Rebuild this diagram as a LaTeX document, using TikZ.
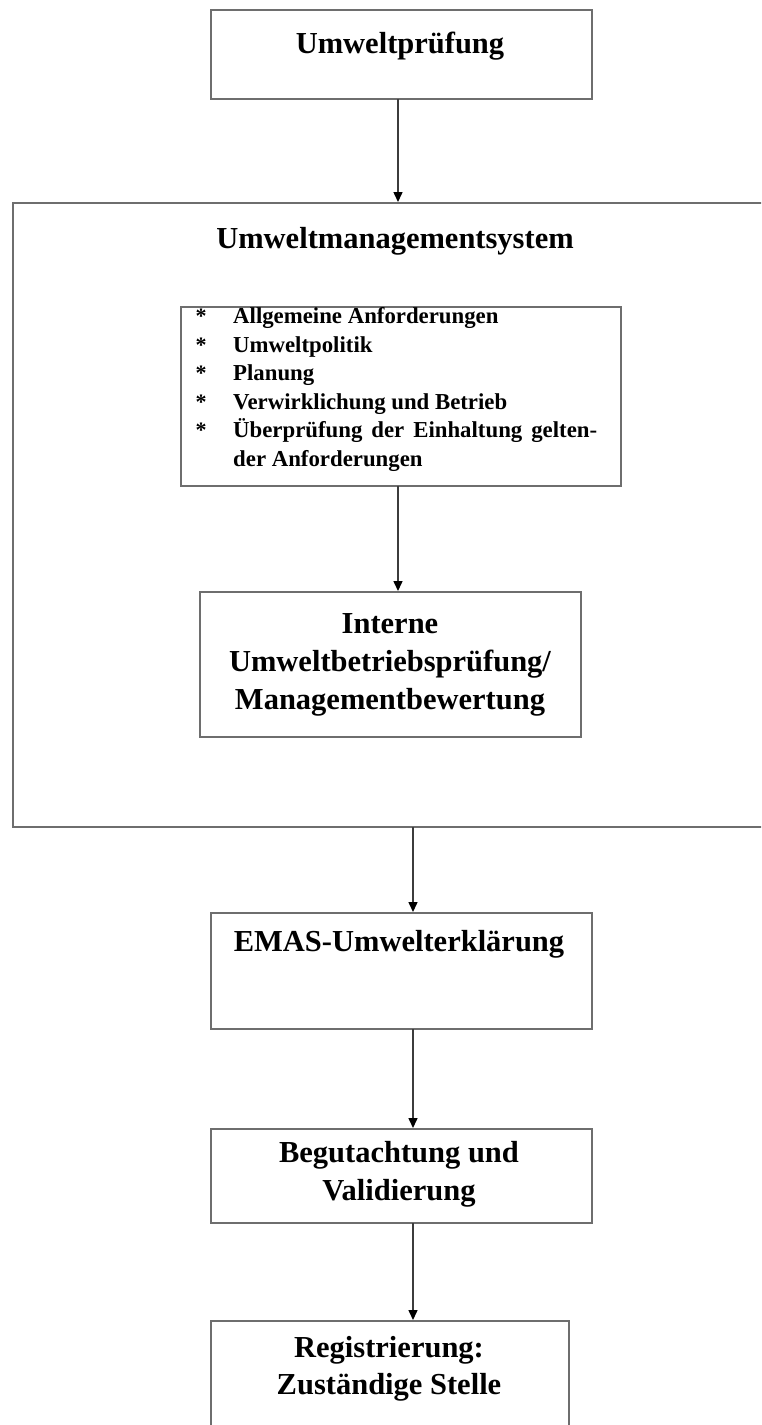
\documentclass[tikz,border=0pt]{standalone}
\usepackage{fontspec}
\setmainfont{Liberation Serif}
\usetikzlibrary{arrows.meta}
\definecolor{boxgray}{HTML}{6E6E6E}
\definecolor{linegray}{HTML}{3C3C3C}
\begin{document}
\begin{tikzpicture}[x=1pt,y=-1pt,
  box/.style={draw=boxgray,line width=2pt,inner sep=0pt,outer sep=0pt,fill=none},
  big/.style={font=\fontsize{30.5}{37}\selectfont\bfseries,inner sep=0pt,anchor=base},
  item/.style={font=\fontsize{22.8}{28.6}\selectfont\bfseries,inner sep=0pt,anchor=base west},
  star/.style={font=\fontsize{22}{28.6}\selectfont\bfseries,inner sep=0pt,anchor=base},
  conn/.style={draw=linegray,line width=1.5pt,-{Triangle[length=10pt,width=9pt,color=black]},shorten >=1pt}]
\useasboundingbox (0,0) rectangle (761,1425);
\clip (0,0) rectangle (761,1425);
% boxes
\node[box,minimum width=381pt,minimum height=89pt] (pruef) at (401.5,54.5) {};
\node[box,minimum width=762pt,minimum height=624pt] (ums) at (394,515) {};
\node[box,minimum width=440pt,minimum height=179pt] (list) at (401,396.5) {};
\node[box,minimum width=381pt,minimum height=145pt] (interne) at (390.5,664.5) {};
\node[box,minimum width=381pt,minimum height=116pt] (emas) at (401.5,971) {};
\node[box,minimum width=381pt,minimum height=94pt] (begut) at (401.5,1176) {};
\node[box,minimum width=358pt,minimum height=124pt] (reg) at (390,1383) {};
% texts
\node[big] (t1) at (400,53) {Umweltprüfung};
\node[big] (t2) at (395,248) {Umweltmanagementsystem};
\node[star] (s1) at (201,323) {*};
\node[star] (s2) at (201,352) {*};
\node[star] (s3) at (201,380) {*};
\node[star] (s4) at (201,409) {*};
\node[star] (s5) at (201,437) {*};
\node[item] (l1) at (233,323) {Allgemeine Anforderungen};
\node[item] (l2) at (233,352) {Umweltpolitik};
\node[item] (l3) at (233,380) {Planung};
\node[item] (l4) at (233,409) {Verwirklichung und Betrieb};
\node[item] (l5) at (233,437) {\makebox[364pt][s]{Überprüfung der Einhaltung gelten-}};
\node[item] (l6) at (233,466) {der Anforderungen};
\node[big] (i1) at (390,633) {Interne};
\node[big] (i2) at (390,671) {Umweltbetriebsprüfung/};
\node[big] (i3) at (390,709) {Managementbewertung};
\node[big] (e1) at (399,951) {EMAS-Umwelterklärung};
\node[big] (b1) at (399,1162) {Begutachtung und};
\node[big] (b2) at (399,1200) {Validierung};
\node[big] (r1) at (389,1357) {Registrierung:};
\node[big] (r2) at (389,1394) {Zuständige Stelle};
% connectors
\coordinate (cx1) at (398,0);
\coordinate (cx2) at (413,0);
\draw[conn] (cx1 |- pruef.south) -- (cx1 |- ums.north);
\draw[conn] (cx1 |- list.south) -- (cx1 |- interne.north);
\draw[conn] (cx2 |- ums.south) -- (cx2 |- emas.north);
\draw[conn] (cx2 |- emas.south) -- (cx2 |- begut.north);
\draw[conn] (cx2 |- begut.south) -- (cx2 |- reg.north);
\end{tikzpicture}
\end{document}
